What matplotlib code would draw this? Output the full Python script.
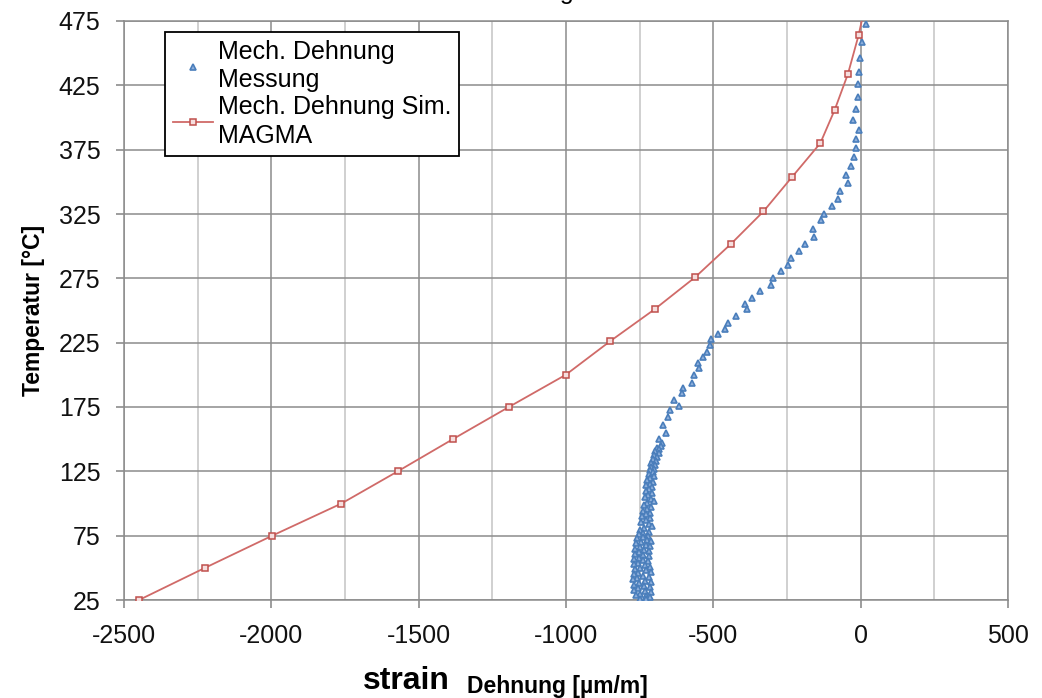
import matplotlib
matplotlib.use("Agg")
import matplotlib.pyplot as plt
from matplotlib.ticker import MultipleLocator

plt.rcParams['font.family'] = ['Liberation Sans', 'DejaVu Sans']
plt.rcParams['axes.unicode_minus'] = False

# Simulation (MAGMA)
sim_temp = [25, 50, 75, 100, 125, 150, 175, 200, 226, 251, 276, 302, 327, 354, 380, 406, 434, 464, 492]
sim_strain = [-2449, -2225, -1997, -1762, -1571, -1384, -1194, -1001, -851, -699, -561, -439, -330, -232,
              -137, -88, -43, -7, 20]

# Measurement
meas_temp = [472.5, 459, 446.5, 435.5, 426, 416, 406.5, 398, 390.5, 383, 376, 369, 362, 355.5, 349, 342.5,
             336.5, 331, 325, 320, 313.5, 307.5, 302, 296.5, 291, 285.5, 280.5, 275, 270, 265, 260, 255,
             251.5, 245.5, 240.5, 235.5, 231.5, 227.5, 223, 218, 213.5, 209, 205, 200, 194, 189.5, 185.5,
             180.5, 175.5, 172.5, 167.5, 161, 154.5, 150.5, 147,
             145, 143.5, 142, 140.5, 139, 137.5, 136, 134.5, 133, 131.5, 130, 128.5, 127, 126, 124.5, 123,
             121.5, 120, 118.5, 117, 115.5, 114, 112.5, 111, 109.5, 108, 106.5, 105, 103.5, 102, 100.5, 99,
             97.5, 96, 94.5, 93, 91.5, 90, 88.5, 87, 85.5, 84, 82.5, 81, 79.5, 78, 77, 76, 75, 74, 73, 72,
             71, 70, 69, 68, 67, 66, 65, 64, 63, 62, 61, 60, 59, 58, 57, 56, 55, 54, 53, 52, 51, 50, 49, 48,
             47, 46, 45, 44, 43, 42, 41, 40, 39, 38, 37, 36, 35, 34, 33, 32, 31, 30, 29, 28, 27, 26, 25.5]
meas_strain = [18, 4, -2, -7, -10, -10, -17, -26, -6, -17, -17, -24, -32, -50, -43, -69,
               -76, -97, -124, -133, -162, -157, -188, -210, -235, -245, -271, -297, -303, -340, -368, -393,
               -385, -424, -450, -461, -483, -507, -510, -521, -535, -552, -549, -566, -574, -603, -608,
               -634, -616, -648, -654, -671, -659, -684, -673,
               -678, -690, -684, -697, -686, -702, -690, -706, -694, -710, -698, -713, -700, -716, -704, -719,
               -702, -714, -724, -706, -716, -727, -708, -719, -730, -709, -721, -733, -711, -701, -725, -736,
               -712, -724, -740, -714, -727, -742, -716, -730, -746, -718, -708, -734, -749, -720, -737, -752,
               -722, -740, -758, -726, -712, -745, -762, -730, -716, -748, -765, -734, -719, -751, -766, -738,
               -720, -753, -768, -740, -722, -756, -769, -733, -715, -750, -766, -729, -712, -755, -770, -737,
               -718, -758, -772, -731, -710, -752, -768, -735, -716, -757, -770, -732, -712, -750, -764, -728,
               -714, -748, -730]

x_ticks = [-2500, -2000, -1500, -1000, -500, 0, 500]
y_ticks = [25, 75, 125, 175, 225, 275, 325, 375, 425, 475]

fig = plt.figure(figsize=(10.42, 6.98), dpi=100)
ax = fig.add_axes([124 / 1042, 1 - 600 / 698, 884 / 1042, 579 / 698])

ax.set_xlim(-2500, 500)
ax.set_ylim(25, 475)
ax.set_xticks(x_ticks)
ax.set_yticks(y_ticks)
ax.xaxis.set_minor_locator(MultipleLocator(250))
ax.tick_params(axis='x', which='minor', length=0)
ax.tick_params(axis='both', which='major', direction='out', length=6, width=1.2, color='#8c8c8c',
               labelsize=18, pad=11, labelcolor='#111111')
ax.tick_params(axis='y', which='major', pad=11)

ax.grid(True, which='major', axis='both', color='#8c8c8c', linewidth=1.1)
ax.grid(True, which='minor', axis='x', color='#c4c4c4', linewidth=1.1)
ax.set_axisbelow(True)
for sp in ax.spines.values():
    sp.set_color('#8c8c8c')
    sp.set_linewidth(1.1)

ax.plot(meas_strain, meas_temp, linestyle='none', marker='^', markersize=5, markerfacecolor='#8fb0dc',
        markeredgecolor='#4a7ebb', markeredgewidth=1.2, label='Mech. Dehnung\nMessung', zorder=3)
ax.plot(sim_strain, sim_temp, color='#d06a68', linewidth=1.3, marker='s', markersize=4.8,
        markerfacecolor='#f6dede', markeredgecolor='#c0504d', markeredgewidth=1.1,
        label='Mech. Dehnung Sim.\nMAGMA', zorder=4)

leg = ax.legend(loc='upper left', bbox_to_anchor=((165 - 124) / 884, 1 - (32 - 21) / 579),
                borderaxespad=0, fontsize=18, frameon=True, fancybox=False, handlelength=1.6,
                handletextpad=0.2, labelspacing=0.12, borderpad=0.3)
leg.get_frame().set_edgecolor('black')
leg.get_frame().set_linewidth(1.3)
leg.get_frame().set_alpha(1)
for t in leg.get_texts():
    t.set_linespacing(1.25)

ax.set_ylabel('Temperatur [°C]', fontsize=16.5, fontweight='bold', labelpad=10)

fig.text(363 / 1042, 2 / 698, 'strain', fontsize=23, fontweight='bold', ha='left', va='bottom')
fig.text(467 / 1042, 1 - 693 / 698, 'Dehnung [µm/m]', fontsize=16.5, fontweight='bold', ha='left',
         va='baseline')
fig.text(574 / 1042, 1 + 1 / 698, 'Mech. Dehnung', fontsize=18, ha='right', va='baseline')

fig.savefig('out.png', dpi=100)
